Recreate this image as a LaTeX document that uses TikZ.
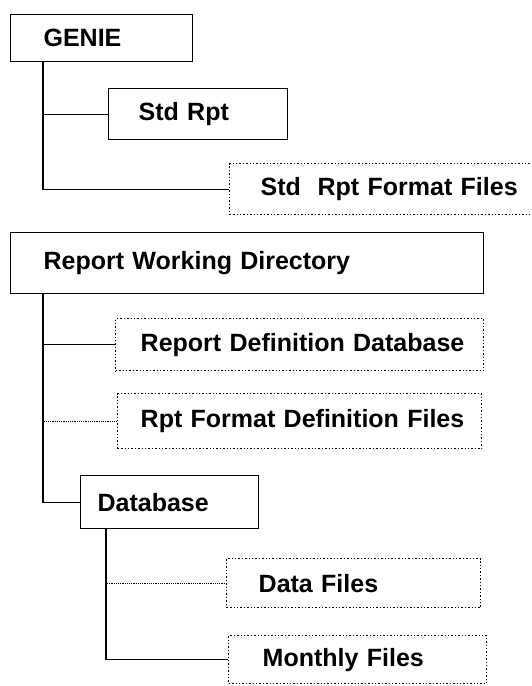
\documentclass[tikz,border=0pt]{standalone}
\usepackage{fontspec}
\setmainfont{Liberation Sans}
\begin{document}
\begin{tikzpicture}[x=1pt,y=-1pt,
  every node/.style={font=\fontsize{25}{30}\selectfont\bfseries, text=black},
  solidbox/.style={draw, line width=1.2pt, anchor=north west, align=left, inner ysep=0pt},
  dotbox/.style={draw, line width=1.4pt, dotted, anchor=north west, align=left, inner ysep=0pt},
  link/.style={line width=1.2pt},
  dlink/.style={line width=1.2pt, densely dotted}]
\clip (0,0) rectangle (531,686);
% GENIE group
\node[solidbox, minimum width=182pt, minimum height=47pt, inner xsep=33pt, text width=116pt] (genie) at (10,14) {\mbox{GENIE}};
\node[solidbox, minimum width=179pt, minimum height=51pt, inner xsep=30pt, text width=119pt] (stdrpt) at (108,88) {\mbox{Std Rpt}};
\node[dotbox, minimum width=320pt, minimum height=51pt, inner xsep=31pt, text width=258pt] (stdfmt) at (229,163) {\mbox{Std~~Rpt Format Files}};
\draw[link] ([xshift=33pt]genie.south west) |- (stdrpt.west);
\draw[link] ([xshift=33pt]genie.south west) |- (stdfmt.west);
% Report Working Directory group
\node[solidbox, minimum width=473pt, minimum height=61pt, inner xsep=33pt, text width=407pt] (rwd) at (10,232) {\mbox{Report Working Directory}};
\node[dotbox, minimum width=368pt, minimum height=52pt, inner xsep=25pt, text width=318pt] (rdd) at (115,318) {\mbox{Report Definition Database}};
\node[dotbox, minimum width=364pt, minimum height=55pt, inner xsep=23pt, text width=318pt] (rfdf) at (117,393) {\mbox{Rpt Format Definition Files}};
\node[solidbox, minimum width=178pt, minimum height=53pt, inner xsep=17pt, text width=144pt] (db) at (80,475) {\mbox{Database}};
\draw[link] ([xshift=33pt]rwd.south west) |- (rdd.west);
\draw[dlink] ([xshift=33pt]rwd.south west) |- (rfdf.west);
\draw[link] ([xshift=33pt]rwd.south west) |- (db.west);
% Database group
\node[dotbox, minimum width=254pt, minimum height=49pt, inner xsep=32pt, text width=190pt] (data) at (226,558) {\mbox{Data Files}};
\node[dotbox, minimum width=258pt, minimum height=48pt, inner xsep=34pt, text width=190pt] (monthly) at (228,635) {\mbox{Monthly Files}};
\draw[dlink] ([xshift=26pt]db.south west) |- (data.west);
\draw[link] ([xshift=26pt]db.south west) |- (monthly.west);
\end{tikzpicture}
\end{document}
